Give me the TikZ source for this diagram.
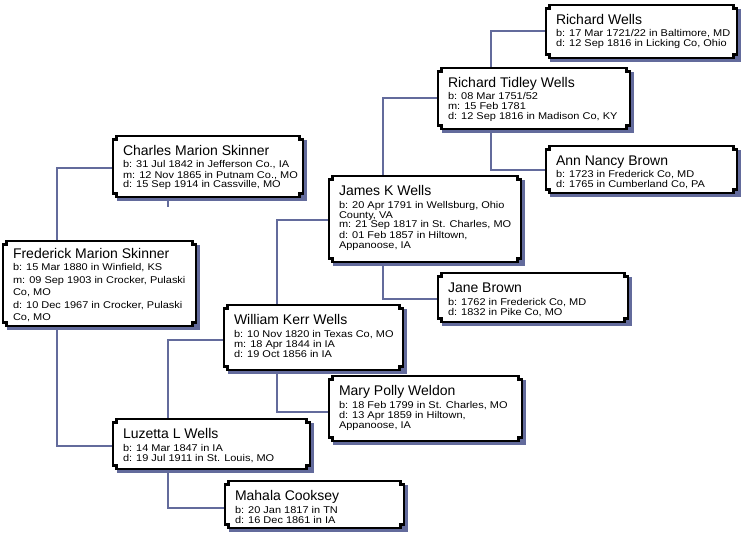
\documentclass[tikz,border=0pt]{standalone}
\usepackage{fontspec}
\setmainfont{Liberation Sans}
\newfontfamily\detfam[FakeStretch=1.12]{Liberation Sans}
\usetikzlibrary{calc}
\definecolor{linec}{RGB}{99,107,156}
\definecolor{shadowc}{RGB}{99,107,156}
\tikzset{
  boxnode/.style={inner sep=0pt, outer sep=0pt, draw=none, anchor=north west},
  conn/.style={draw=linec, line width=2pt},
  boxline/.style={draw=black, fill=white, line width=2.2pt, line join=miter},
  namet/.style={inner sep=0pt, outer sep=0pt, anchor=base west, font=\fontsize{14}{16}\selectfont},
  dett/.style={inner sep=0pt, outer sep=0pt, anchor=base west},
}
\newcommand\defbox[5]{%
  \node[boxnode, minimum width={#4-#2}, minimum height={#5-#3}] (#1) at (#2,#3) {};}
% #1 node, #2 name, #3 details, #4 name baseline offset, #5 first detail offset, #6 pitch
\newcommand\drawboxx[6]{%
  \fill[shadowc] ($(#1.north west)+(4,4)$) rectangle ($(#1.south east)+(4,4)$);
  \path[boxline] let \p1=(#1.north west), \p2=(#1.south east) in
    (\x1,{\y1-3.5pt}) -- ({\x1+3.5pt},{\y1-3.5pt}) -- ({\x1+3.5pt},\y1) --
    ({\x2-3.5pt},\y1) -- ({\x2-3.5pt},{\y1-3.5pt}) -- (\x2,{\y1-3.5pt}) --
    (\x2,{\y2+3.5pt}) -- ({\x2-3.5pt},{\y2+3.5pt}) -- ({\x2-3.5pt},\y2) --
    ({\x1+3.5pt},\y2) -- ({\x1+3.5pt},{\y2+3.5pt}) -- (\x1,{\y2+3.5pt}) -- cycle;
  \node[namet] (#1-n) at ($(#1.north west)+(10,#4)$) {#2};
  \node[dett] (#1-d) at ($(#1.north west)+(10,#5)$)
    {\parbox[t]{230pt}{\detfam\fontsize{9.8}{#6}\selectfont #3}};}
\newcommand\drawbox[3]{\drawboxx{#1}{#2}{#3}{19.5}{32}{10}}
\begin{document}
\begin{tikzpicture}[x=1pt,y=-1pt]
\useasboundingbox (0,0) rectangle (744,540);
% invisible box nodes
\defbox{rw}{546}{5}{737}{58}
\defbox{rtw}{438}{68}{630}{129}
\defbox{ann}{546}{146}{737}{193}
\defbox{charles}{113}{136}{303}{197}
\defbox{james}{329}{176}{521}{262}
\defbox{fred}{3}{241}{196}{326}
\defbox{jane}{438}{273}{628}{322}
\defbox{will}{224}{305}{403}{370}
\defbox{mary}{329}{376}{522}{441}
\defbox{luz}{113}{419}{310}{469}
\defbox{mah}{225}{481}{404}{528}
% connectors
\coordinate (cstub) at ($(charles.south west)+(55,10)$);
\draw[conn] ($(fred.north west)+(54,0)$) |- ($(charles.west)+(0,2)$);
\draw[conn] ($(fred.south west)+(54,0)$) |- ($(luz.west)+(0,2)$);
\draw[conn] ($(charles.south west)+(55,0)$) -- (cstub);
\draw[conn] ($(luz.north west)+(55,0)$) |- ($(will.west)+(0,2)$);
\draw[conn] ($(luz.south west)+(55,0)$) |- ($(mah.west)+(0,3)$);
\draw[conn] ($(will.north west)+(53,0)$) |- ($(james.west)+(0,1)$);
\draw[conn] ($(will.south west)+(53,0)$) |- ($(mary.west)+(0,3)$);
\draw[conn] ($(james.north west)+(54,0)$) |- ($(rtw.west)+(0,0)$);
\draw[conn] ($(james.south west)+(54,0)$) |- ($(jane.west)+(0,1)$);
\draw[conn] ($(rtw.north west)+(53,0)$) |- ($(rw.west)+(0,0)$);
\draw[conn] ($(rtw.south west)+(53,0)$) |- ($(ann.west)+(0,1)$);
% boxes
\drawbox{rw}{Richard Wells}{b: 17 Mar 1721/22 in Baltimore, MD\\d: 12 Sep 1816 in Licking Co, Ohio}
\drawbox{rtw}{Richard Tidley Wells}{b: 08 Mar 1751/52\\m: 15 Feb 1781\\d: 12 Sep 1816 in Madison Co, KY}
\drawbox{ann}{Ann Nancy Brown}{b: 1723 in Frederick Co, MD\\d: 1765 in Cumberland Co, PA}
\drawbox{charles}{Charles Marion Skinner}{b: 31 Jul 1842 in Jefferson Co., IA\\m: 12 Nov 1865 in Putnam Co., MO\\d: 15 Sep 1914 in Cassville, MO}
\drawbox{james}{James K Wells}{b: 20 Apr 1791 in Wellsburg, Ohio\\County, VA\\m: 21 Sep 1817 in St. Charles, MO\\d: 01 Feb 1857 in Hiltown,\\Appanoose, IA}
\drawboxx{fred}{Frederick Marion Skinner}{b: 15 Mar 1880 in Winfield, KS\\m: 09 Sep 1903 in Crocker, Pulaski\\Co, MO\\d: 10 Dec 1967 in Crocker, Pulaski\\Co, MO}{17}{29.5}{12.6}
\drawbox{jane}{Jane Brown}{b: 1762 in Frederick Co, MD\\d: 1832 in Pike Co, MO}
\drawbox{will}{William Kerr Wells}{b: 10 Nov 1820 in Texas Co, MO\\m: 18 Apr 1844 in IA\\d: 19 Oct 1856 in IA}
\drawbox{mary}{Mary Polly Weldon}{b: 18 Feb 1799 in St. Charles, MO\\d: 13 Apr 1859 in Hiltown,\\Appanoose, IA}
\drawbox{luz}{Luzetta L Wells}{b: 14 Mar 1847 in IA\\d: 19 Jul 1911 in St. Louis, MO}
\drawbox{mah}{Mahala Cooksey}{b: 20 Jan 1817 in TN\\d: 16 Dec 1861 in IA}
\end{tikzpicture}
\end{document}
